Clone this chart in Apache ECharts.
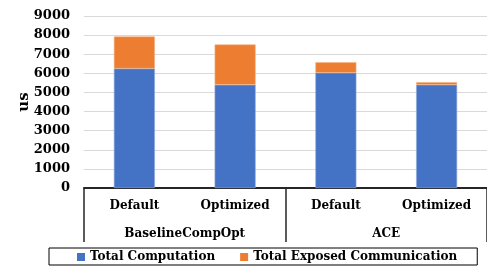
<!DOCTYPE html>
<html>
<head>
<meta charset="utf-8">
<script src="https://cdn.jsdelivr.net/npm/echarts@6/dist/echarts.min.js"></script>
<style>
  html, body { margin: 0; padding: 0; background: #fff; }
  #main { width: 487px; height: 266px; }
</style>
</head>
<body>
<div id="main"></div>
<script type="text/javascript">
    // data
    var configs = ['Default', 'Optimized', 'Default', 'Optimized'];
    var groups = ['BaselineCompOpt', 'ACE'];
    var computation = [6250, 5400, 6030, 5400];
    var exposedComm = [1680, 2110, 550, 140];
    var seriesNames = ['Total Computation', 'Total Exposed Communication'];

    var font = 'DejaVu Serif';
    var myChart = echarts.init(document.getElementById('main'));

    var option = {
        animation: false,
        grid: {
            left: 84,
            right: -3,
            top: 16,
            bottom: 78,
            containLabel: false
        },
        legend: {
            data: seriesNames,
            left: 49,
            top: 248,
            width: 440,
            padding: [3, 20, 2, 28],
            itemGap: 25,
            itemWidth: 8,
            itemHeight: 8,
            icon: 'rect',
            itemStyle: { borderWidth: 0 },
            borderColor: '#000',
            borderWidth: 1,
            borderRadius: 0,
            textStyle: {
                fontFamily: font,
                fontWeight: 'bold',
                fontSize: 12,
                color: '#000'
            }
        },
        xAxis: [
            {
                type: 'category',
                data: configs,
                position: 'bottom',
                axisLine: { show: true, lineStyle: { color: '#262626', width: 2 } },
                axisTick: { show: false },
                axisLabel: {
                    interval: 0,
                    margin: 12,
                    fontFamily: font,
                    fontWeight: 'bold',
                    fontSize: 12,
                    color: '#000'
                }
            },
            {
                type: 'category',
                data: groups,
                position: 'bottom',
                axisLine: { show: false },
                axisTick: {
                    show: true,
                    interval: 0,
                    length: 54,
                    lineStyle: { color: '#262626', width: 1.5 }
                },
                axisLabel: {
                    interval: 0,
                    margin: 40,
                    fontFamily: font,
                    fontWeight: 'bold',
                    fontSize: 12,
                    color: '#000'
                },
                splitLine: { show: false }
            }
        ],
        yAxis: {
            type: 'value',
            min: 0,
            max: 9000,
            interval: 1000,
            name: 'us',
            nameLocation: 'middle',
            nameRotate: 90,
            nameGap: 52,
            nameMoveOverlap: false,
            nameTextStyle: {
                fontFamily: font,
                fontWeight: 'bold',
                fontSize: 15,
                color: '#000'
            },
            axisLine: { show: false },
            axisTick: { show: false },
            axisLabel: {
                margin: 14,
                formatter: function (v) { return String(v); },
                fontFamily: font,
                fontWeight: 'bold',
                fontSize: 13,
                color: '#000'
            },
            splitLine: { lineStyle: { color: '#d9d9d9', width: 1 } }
        },
        series: [
            {
                name: seriesNames[0],
                type: 'bar',
                stack: 'total',
                barWidth: 41,
                itemStyle: { color: '#4472C4', borderColor: '#8eaadc', borderWidth: 0.6 },
                data: computation
            },
            {
                name: seriesNames[1],
                type: 'bar',
                stack: 'total',
                barWidth: 41,
                itemStyle: { color: '#ED7D31', borderColor: '#f4b183', borderWidth: 0.6 },
                data: exposedComm
            }
        ]
    };

    myChart.setOption(option);
</script>
</body>
</html>
